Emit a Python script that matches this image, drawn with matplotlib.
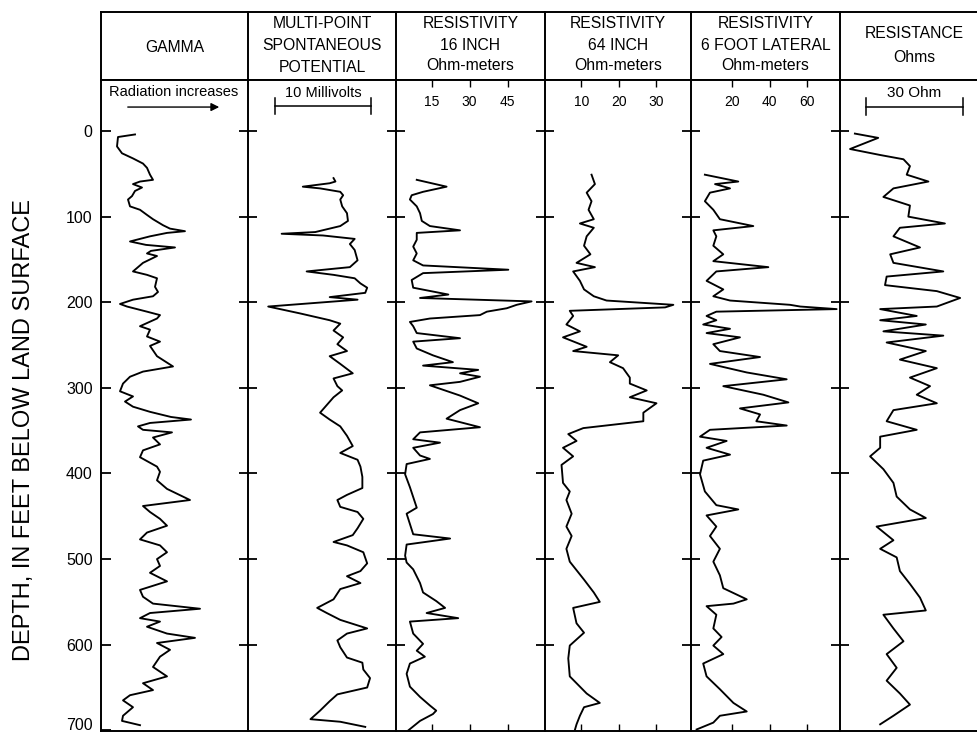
import matplotlib.pyplot as plt
import numpy as np

plt.rcParams['font.family'] = ['Liberation Sans', 'DejaVu Sans']

# ---- log data (depth in feet) ----
gamma_depth = [4, 7, 18, 26, 32, 38, 43, 51, 57, 59, 62, 66, 70, 76, 80, 88, 92, 98, 103, 110,
               114, 117, 119, 123, 129, 133, 136, 140, 143, 146, 154, 164, 168, 172, 182, 188, 193, 197, 202, 205,
               211, 215, 219, 228, 232, 240, 246, 251, 263, 275, 281, 287, 295, 304, 310, 316, 322, 328, 334, 337,
               341, 345, 349, 352, 358, 366, 373, 381, 392, 398, 408, 418, 431, 438, 445, 453, 461, 469, 477, 484,
               492, 500, 508, 516, 526, 536, 544, 552, 558, 563, 569, 573, 579, 587, 592, 598, 606, 614, 626, 637,
               645, 653, 659, 665, 673, 683, 689, 694]
gamma_val = [34, 17, 16, 21, 32, 42, 46, 49, 52, 39, 32, 41, 34, 31, 27, 29, 39, 46, 52, 62,
             69, 84, 66, 49, 29, 45, 74, 50, 46, 56, 42, 32, 46, 56, 54, 57, 52, 32, 19, 26,
             46, 59, 56, 39, 49, 46, 59, 49, 56, 72, 42, 29, 22, 19, 32, 24, 32, 49, 70, 90,
             49, 37, 42, 71, 52, 59, 42, 39, 56, 59, 56, 66, 89, 42, 49, 59, 66, 46, 39, 59,
             66, 56, 59, 49, 66, 39, 42, 52, 99, 49, 39, 59, 46, 66, 94, 56, 69, 59, 52, 66,
             42, 52, 29, 22, 32, 22, 21, 39]

sp_depth = [55, 59, 61, 65, 67, 71, 75, 80, 88, 96, 105, 111, 118, 120, 122, 126, 132, 139, 151, 159,
            164, 168, 172, 178, 183, 189, 194, 197, 205, 213, 221, 225, 233, 241, 249, 257, 263, 272, 283, 289,
            298, 303, 311, 320, 329, 337, 345, 356, 368, 376, 384, 392, 404, 417, 425, 431, 439, 445, 453, 464,
            472, 480, 484, 492, 505, 514, 520, 528, 535, 547, 557, 563, 571, 581, 587, 595, 603, 615, 621, 629,
            639, 650, 658, 666, 677, 687, 690, 696]
sp_mv = [8.9, 9.1, 8.5, 5.7, 7.5, 9.6, 9.9, 9.6, 9.8, 10.3, 10.4, 9.6, 7.0, 3.5, 7.8, 11.1, 10.6, 11.1, 11.4, 10.6,
         6.1, 8.9, 11.1, 11.7, 12.4, 12.2, 8.5, 11.4, 2.1, 5.4, 8.5, 9.6, 8.9, 9.9, 9.3, 10.3, 8.5, 9.6, 10.9, 8.9,
         9.3, 9.8, 8.9, 8.2, 7.5, 8.5, 9.6, 10.3, 10.9, 9.6, 11.4, 11.7, 11.9, 11.9, 10.3, 9.3, 9.6, 11.4, 12.0, 11.4,
         10.9, 8.9, 10.3, 12.0, 12.4, 11.7, 10.3, 11.7, 9.6, 8.9, 7.2, 8.2, 9.6, 12.4, 10.3, 9.3, 9.6, 10.3, 11.9, 12.0,
         12.7, 12.4, 9.3, 8.5, 7.5, 6.5, 9.6, 12.2]

r16_depth = [57, 65, 71, 75, 80, 88, 96, 105, 111, 116, 119, 127, 135, 143, 151, 157, 162, 166, 174, 183,
             191, 195, 199, 203, 207, 211, 215, 219, 223, 228, 236, 242, 246, 254, 262, 270, 274, 279, 283, 287,
             293, 297, 309, 318, 326, 336, 346, 352, 360, 364, 370, 379, 383, 389, 401, 416, 440, 447, 459, 471,
             476, 483, 496, 504, 512, 528, 539, 549, 557, 563, 569, 573, 587, 599, 607, 614, 622, 634, 649, 661,
             671, 677, 681, 689, 700]
r16_ohmm = [9.1, 20.9, 11.6, 7.1, 6.4, 9.1, 10.4, 11.1, 14.3, 26.2, 9.1, 9.1, 7.7, 9.1, 7.7, 11.6, 45.3, 11.6, 7.1, 7.7,
            21.6, 10.4, 54.5, 48.6, 44.7, 36.8, 34.1, 14.3, 6.4, 7.7, 9.1, 26.2, 7.7, 9.1, 15.5, 23.4, 11.6, 33.4, 26.2, 34.1,
            26.2, 14.3, 26.2, 33.4, 26.2, 20.9, 34.1, 10.4, 7.7, 18.3, 7.7, 10.4, 14.3, 5.1, 4.5, 6.4, 9.1, 5.1, 6.4, 7.7,
            22.3, 5.1, 4.5, 5.1, 7.7, 10.4, 11.6, 16.8, 20.3, 13.0, 25.5, 6.4, 7.7, 11.6, 9.1, 12.3, 6.4, 5.1, 6.4, 10.4,
            14.3, 16.8, 15.5, 10.4, 5.8]

r64_depth = [51, 62, 72, 82, 92, 103, 108, 113, 123, 134, 144, 154, 159, 164, 175, 185, 193, 198, 203, 206,
             210, 216, 226, 234, 241, 252, 257, 262, 270, 277, 288, 295, 303, 311, 318, 329, 339, 347, 354, 362,
             370, 380, 390, 411, 421, 431, 447, 462, 473, 488, 503, 524, 539, 550, 557, 575, 586, 601, 616, 637,
             657, 668, 673, 683, 693, 699]
r64_ohmm = [12.7, 13.6, 11.4, 12.7, 11.9, 13.3, 9.6, 13.3, 11.4, 10.7, 12.4, 8.7, 13.6, 7.8, 9.6, 10.7, 13.3, 16.7, 34.5, 32.3,
            6.9, 7.8, 6.0, 9.6, 5.1, 11.4, 7.8, 19.8, 17.6, 21.1, 22.9, 22.9, 27.4, 22.9, 30.0, 26.5, 26.5, 10.5, 6.5, 8.7,
            5.1, 7.8, 4.7, 5.1, 6.9, 6.0, 7.4, 6.0, 7.4, 6.0, 6.9, 10.7, 13.3, 14.9, 7.8, 8.7, 10.7, 6.9, 6.5, 6.9,
            11.4, 14.9, 10.7, 9.6, 8.7, 8.3]

lat_depth = [51, 59, 62, 67, 72, 82, 92, 103, 111, 116, 123, 134, 144, 152, 159, 164, 175, 185, 193, 198,
             203, 205, 208, 211, 216, 221, 226, 231, 236, 241, 249, 257, 264, 272, 282, 290, 298, 308, 317, 324,
             331, 339, 344, 349, 357, 362, 370, 378, 385, 401, 421, 437, 442, 449, 462, 473, 488, 503, 519, 534,
             547, 552, 555, 565, 581, 591, 601, 611, 622, 637, 652, 668, 678, 683, 691, 699]
lat_ohmm = [5.4, 23.2, 10.8, 18.8, 8.1, 5.4, 9.9, 13.4, 31.2, 9.9, 11.5, 9.9, 15.2, 9.9, 39.2, 11.5, 6.3, 15.2, 9.9, 18.8,
            50.8, 56.2, 75.6, 11.5, 6.3, 11.5, 4.5, 18.8, 6.3, 24.1, 9.9, 13.4, 34.8, 8.1, 27.7, 49.0, 15.2, 36.5, 49.9, 24.1,
            34.8, 32.8, 49.0, 8.1, 2.8, 17.0, 6.3, 18.8, 4.5, 2.8, 5.4, 11.5, 23.2, 6.3, 11.5, 8.1, 13.4, 9.9, 13.4, 15.2,
            27.7, 20.6, 6.3, 11.5, 9.9, 14.3, 9.9, 15.2, 4.5, 6.3, 13.4, 20.6, 27.7, 13.4, 9.9, 1.0]

res_depth = [3, 8, 21, 28, 33, 41, 51, 59, 67, 77, 87, 100, 108, 113, 123, 136, 144, 154, 164, 170,
             180, 187, 195, 205, 208, 216, 221, 226, 234, 239, 247, 257, 267, 277, 288, 298, 308, 318, 326, 339,
             349, 357, 370, 380, 395, 411, 427, 442, 452, 462, 478, 488, 498, 514, 529, 545, 560, 565, 581, 596,
             611, 627, 642, 657, 670, 683, 693]
res_ohm = [4.6, 11.8, 3.1, 12.4, 19.6, 21.6, 20.6, 27.3, 16.5, 13.4, 21.6, 21.1, 32.4, 18.5, 16.5, 24.7, 15.5, 16.5, 31.9, 14.4,
           13.9, 29.9, 37.1, 29.9, 12.4, 23.7, 12.4, 26.5, 13.4, 31.9, 14.4, 26.5, 18.5, 29.9, 21.6, 27.8, 23.7, 29.9, 16.5, 14.4,
           23.7, 12.4, 12.4, 9.3, 13.4, 16.5, 17.5, 21.6, 26.5, 11.3, 16.5, 12.4, 17.5, 18.5, 21.6, 24.7, 26.5, 13.4, 16.5, 19.6,
           14.4, 17.5, 14.4, 18.5, 21.6, 16.5, 12.4]

depth_ticks = [0, 100, 200, 300, 400, 500, 600, 700]
r16_ticks = [15, 30, 45]
r64_ticks = [10, 20, 30]
lat_ticks = [20, 40, 60]

# ---- layout (pixels of the 978 x 736 image) ----
W, H = 978, 736
edges = [101, 248, 396, 545, 691, 840, 988]
head_top, head_bot, log_bot = 12, 80, 731
ylim = (700.8, -59.6)
LW = 1.4

tracks = [
    dict(d=gamma_depth, v=gamma_val, xlim=(0, 147), ticks=None,
         head=[("GAMMA", 47)]),
    dict(d=sp_depth, v=sp_mv, xlim=(0, 15.4), ticks=None,
         head=[("MULTI-POINT", 23), ("SPONTANEOUS", 45), ("POTENTIAL", 67)]),
    dict(d=r16_depth, v=r16_ohmm, xlim=(0.9, 59.8), ticks=r16_ticks,
         head=[("RESISTIVITY", 23), ("16 INCH", 45), ("Ohm-meters", 66)]),
    dict(d=r64_depth, v=r64_ohmm, xlim=(0.3, 39.2), ticks=r64_ticks,
         head=[("RESISTIVITY", 23), ("64 INCH", 45), ("Ohm-meters", 66)]),
    dict(d=lat_depth, v=lat_ohmm, xlim=(-2.0, 77.4), ticks=lat_ticks,
         head=[("RESISTIVITY", 23), ("6 FOOT LATERAL", 45), ("Ohm-meters", 66)]),
    dict(d=res_depth, v=res_ohm, xlim=(0, 45.7), ticks=None,
         head=[("RESISTANCE", 33), ("Ohms", 58)]),
]

fig = plt.figure(figsize=(W / 100, H / 100), dpi=100)

axes = []
for i, t in enumerate(tracks):
    l, r = edges[i], edges[i + 1]
    # header box
    hx = fig.add_axes([l / W, 1 - head_bot / H, (r - l) / W, (head_bot - head_top) / H])
    hx.set_xticks([])
    hx.set_yticks([])
    hx.spines['right'].set_visible(False)
    for s in hx.spines.values():
        s.set_linewidth(LW)
    for txt, ypx in t['head']:
        hx.text(0.5, (head_bot - ypx) / (head_bot - head_top), txt, transform=hx.transAxes,
                ha='center', va='center', fontsize=11.3)

    # log track
    ax = fig.add_axes([l / W, 1 - log_bot / H, (r - l) / W, (log_bot - head_bot) / H])
    ax.plot(t['v'], t['d'], color='black', lw=1.35)
    ax.set_xlim(t['xlim'])
    ax.set_ylim(ylim)
    ax.spines['right'].set_visible(False)
    for s in ax.spines.values():
        s.set_linewidth(LW)
    if i == 0:
        ax.set_yticks(depth_ticks)
        ax.tick_params(axis='y', direction='in', length=7, width=1.3, labelsize=11.5, pad=6)
        ax.get_yticklabels()[-1].set_verticalalignment('baseline')
    else:
        ax.set_yticks(depth_ticks[:-1])
        ax.tick_params(axis='y', direction='inout', length=13, width=1.3, labelleft=False)
    if t['ticks']:
        ax.set_xticks(t['ticks'])
        ax.tick_params(axis='x', direction='in', top=True, bottom=True, labelbottom=False,
                       length=5, width=1.0)
        for v in t['ticks']:
            ax.text(v, -34, str(v), ha='center', va='center', fontsize=10)
    else:
        ax.set_xticks([])
    axes.append(ax)

# scale annotations in the top of each track
gx = axes[0]
gx.text(72.5, -45, "Radiation increases", ha='center', va='center', fontsize=10.5)
gx.annotate("", xy=(121, -28), xytext=(24, -28),
            arrowprops=dict(arrowstyle='-|>', color='black', lw=1.0, mutation_scale=12))

sp_bar = (2.8, 12.8)   # 10 millivolts
sx = axes[1]
sx.text(sum(sp_bar) / 2, -44, "10 Millivolts", ha='center', va='center', fontsize=10.5)
sx.plot(sp_bar, [-29, -29], color='black', lw=1.1)
for v in sp_bar:
    sx.plot([v, v], [-39, -20], color='black', lw=1.1)

res_bar = (7.9, 37.9)  # 30 ohm
rx = axes[5]
rx.text(sum(res_bar) / 2, -44, "30 Ohm", ha='center', va='center', fontsize=11)
rx.plot(res_bar, [-28, -28], color='black', lw=1.1)
for v in res_bar:
    rx.plot([v, v], [-38, -19], color='black', lw=1.1)

fig.text(24 / W, 1 - 430 / H, "DEPTH, IN FEET BELOW LAND SURFACE", rotation=90,
         ha='center', va='center', fontsize=17)

fig.savefig("out.png", dpi=100)
